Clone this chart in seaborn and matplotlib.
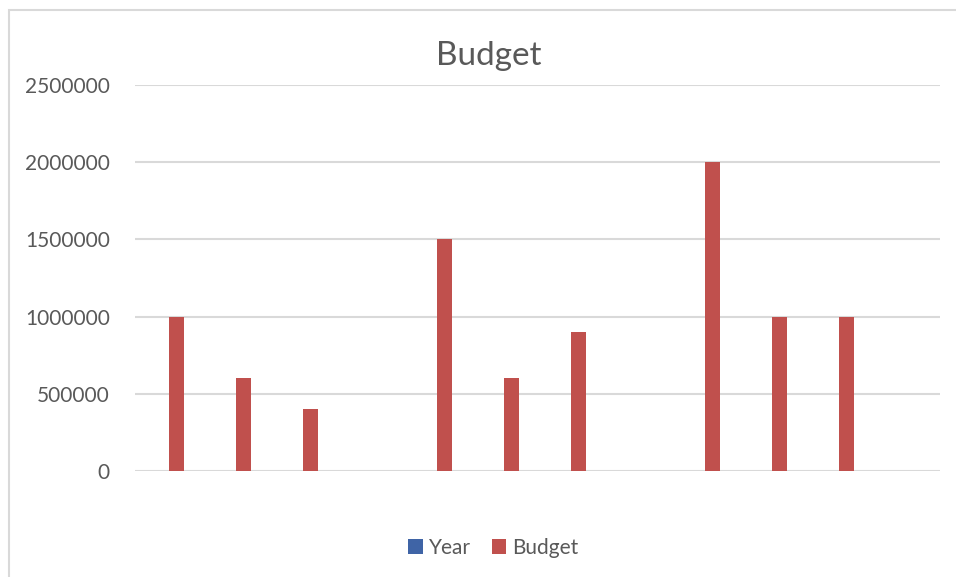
import matplotlib
matplotlib.use("Agg")
import matplotlib.pyplot as plt
import seaborn as sns
import pandas as pd
from matplotlib.patches import Rectangle

categories = [str(i) for i in range(1, 13)]
year_values = [2018, 2019, 2020, 0, 2018, 2019, 2020, 0, 2018, 2019, 2020, 0]
budget_values = [1000000, 600000, 400000, 0, 1500000, 600000, 900000, 0,
                 2000000, 1000000, 1000000, 0]
y_ticks = [0, 500000, 1000000, 1500000, 2000000, 2500000]
series_names = ["Year", "Budget"]
series_colors = ["#3F64A6", "#C0504D"]

df = pd.DataFrame({
    "Category": categories * 2,
    "Series": [series_names[0]] * len(categories) + [series_names[1]] * len(categories),
    "Value": year_values + budget_values,
})

sns.set_theme(style="white")
plt.rcParams["font.family"] = ["Lato", "DejaVu Sans"]

W, H = 956, 577
fig = plt.figure(figsize=(W / 100, H / 100), dpi=100)
ax = fig.add_axes([135 / W, 1 - 471 / H, (940 - 135) / W, (471 - 85) / H])

sns.barplot(data=df, x="Category", y="Value", hue="Series", order=categories,
            hue_order=series_names, palette=series_colors, width=0.45,
            saturation=1, linewidth=0, ax=ax, legend=False)

ax.set_ylim(0, 2500000)
ax.set_xlim(-0.5, len(categories) - 0.5)
ax.set_yticks(y_ticks)
ax.set_yticklabels([str(v) for v in y_ticks])
ax.set_xticks([])
ax.set_xlabel("")
ax.set_ylabel("")
for s in ax.spines.values():
    s.set_visible(False)
ax.yaxis.grid(True, color="#D9D9D9", linewidth=1.5)
ax.set_axisbelow(True)
ax.tick_params(axis="y", length=0, pad=18, labelsize=15, labelcolor="#595959")

fig.text(0.511, 1 - 65 / H, "Budget", ha="center", va="baseline",
         fontsize=24, color="#595959")

handles = [Rectangle((0, 0), 1, 1, facecolor=c, edgecolor="none") for c in series_colors]
fig.legend(handles, series_names, loc="center", bbox_to_anchor=(0.516, 1 - 548 / H),
           ncol=2, frameon=False, fontsize=15, labelcolor="#595959",
           handlelength=0.7, handleheight=0.7, handletextpad=0.3, columnspacing=1.0)

fig.patches.append(Rectangle((8.5 / W, -0.05), 1.1, 1 - 10 / H + 0.05,
                             transform=fig.transFigure, fill=False,
                             edgecolor="#D9D9D9", linewidth=1.5))

fig.savefig("out.png", dpi=100, facecolor="white")
